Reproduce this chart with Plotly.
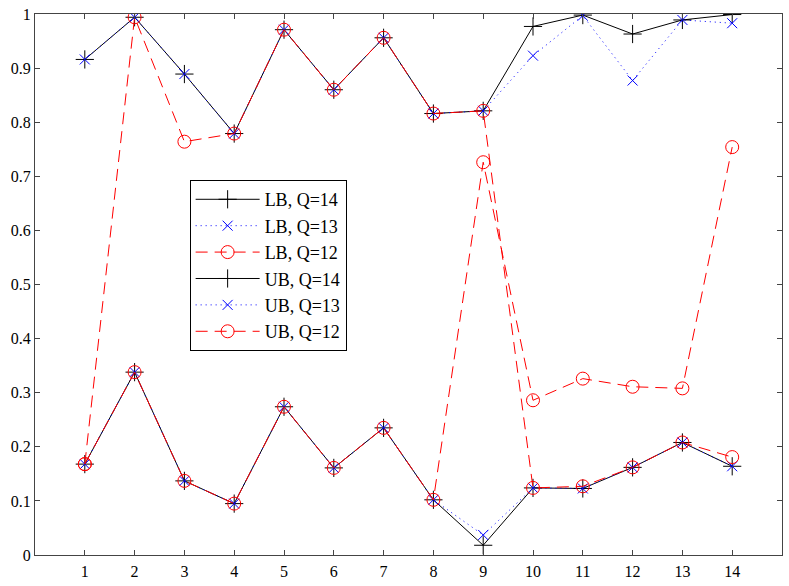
import plotly.graph_objects as go

x = list(range(1, 15))
lb14 = [0.168, 0.338, 0.137, 0.095, 0.274, 0.161, 0.235, 0.102, 0.018, 0.124, 0.123, 0.162, 0.208, 0.164]
lb13 = [0.168, 0.338, 0.137, 0.095, 0.274, 0.161, 0.235, 0.102, 0.037, 0.124, 0.123, 0.162, 0.208, 0.164]
lb12 = [0.168, 0.338, 0.137, 0.095, 0.274, 0.161, 0.235, 0.102, 0.726, 0.286, 0.326, 0.311, 0.308, 0.754]
ub14 = [0.916, 0.994, 0.889, 0.779, 0.971, 0.860, 0.956, 0.816, 0.821, 0.977, 0.998, 0.963, 0.989, 0.999]
ub13 = [0.916, 0.994, 0.889, 0.779, 0.971, 0.860, 0.956, 0.816, 0.821, 0.923, 0.997, 0.877, 0.989, 0.983]
ub12 = [0.168, 0.994, 0.764, 0.779, 0.971, 0.860, 0.956, 0.816, 0.821, 0.124, 0.127, 0.162, 0.208, 0.181]

names = ["LB, Q=14", "LB, Q=13", "LB, Q=12", "UB, Q=14", "UB, Q=13", "UB, Q=12"]
series = [lb14, lb13, lb12, ub14, ub13, ub12]

styles = {
    14: dict(color="black", dash="solid", symbol="cross-thin-open", size=13),
    13: dict(color="blue", dash="1px,4px", symbol="x-thin-open", size=10),
    12: dict(color="red", dash="12px,7px", symbol="circle-open", size=13),
}

fig = go.Figure()
for name, ys in zip(names, series):
    q = int(name.split("=")[1])
    s = styles[q]
    fig.add_trace(go.Scatter(
        x=x, y=ys, name=name, mode="lines+markers",
        line=dict(color=s["color"], width=1, dash=s["dash"]),
        marker=dict(symbol=s["symbol"], size=s["size"], color=s["color"],
                    line=dict(color=s["color"], width=1)),
    ))

axis_common = dict(
    showgrid=False, zeroline=False, showline=True, linecolor="#444", linewidth=1,
    mirror="allticks", ticks="inside", ticklen=5, tickcolor="#444",
    tickfont=dict(family="Liberation Serif", size=16, color="black"),
)

fig.update_layout(
    width=789, height=586,
    margin=dict(l=35, r=6, t=10, b=28),
    plot_bgcolor="white", paper_bgcolor="white",
    xaxis=dict(range=[0, 15], tickvals=x, ticktext=[str(v) for v in x],
               ticklabelstandoff=2, **axis_common),
    yaxis=dict(range=[0, 1], tickvals=[i / 10 for i in range(11)],
               ticktext=["0", "0.1", "0.2", "0.3", "0.4", "0.5", "0.6", "0.7", "0.8", "0.9", "1"],
               **axis_common),
    legend=dict(
        x=0.207, y=0.693, xanchor="left", yanchor="top",
        bgcolor="white", bordercolor="black", borderwidth=1,
        font=dict(family="Liberation Serif", size=18, color="black"),
        tracegroupgap=0, itemwidth=64,
    ),
    showlegend=True,
)

fig.write_html("out.html", config={"displayModeBar": False},
               post_script="document.body.style.margin='0';document.body.style.overflow='hidden';")
